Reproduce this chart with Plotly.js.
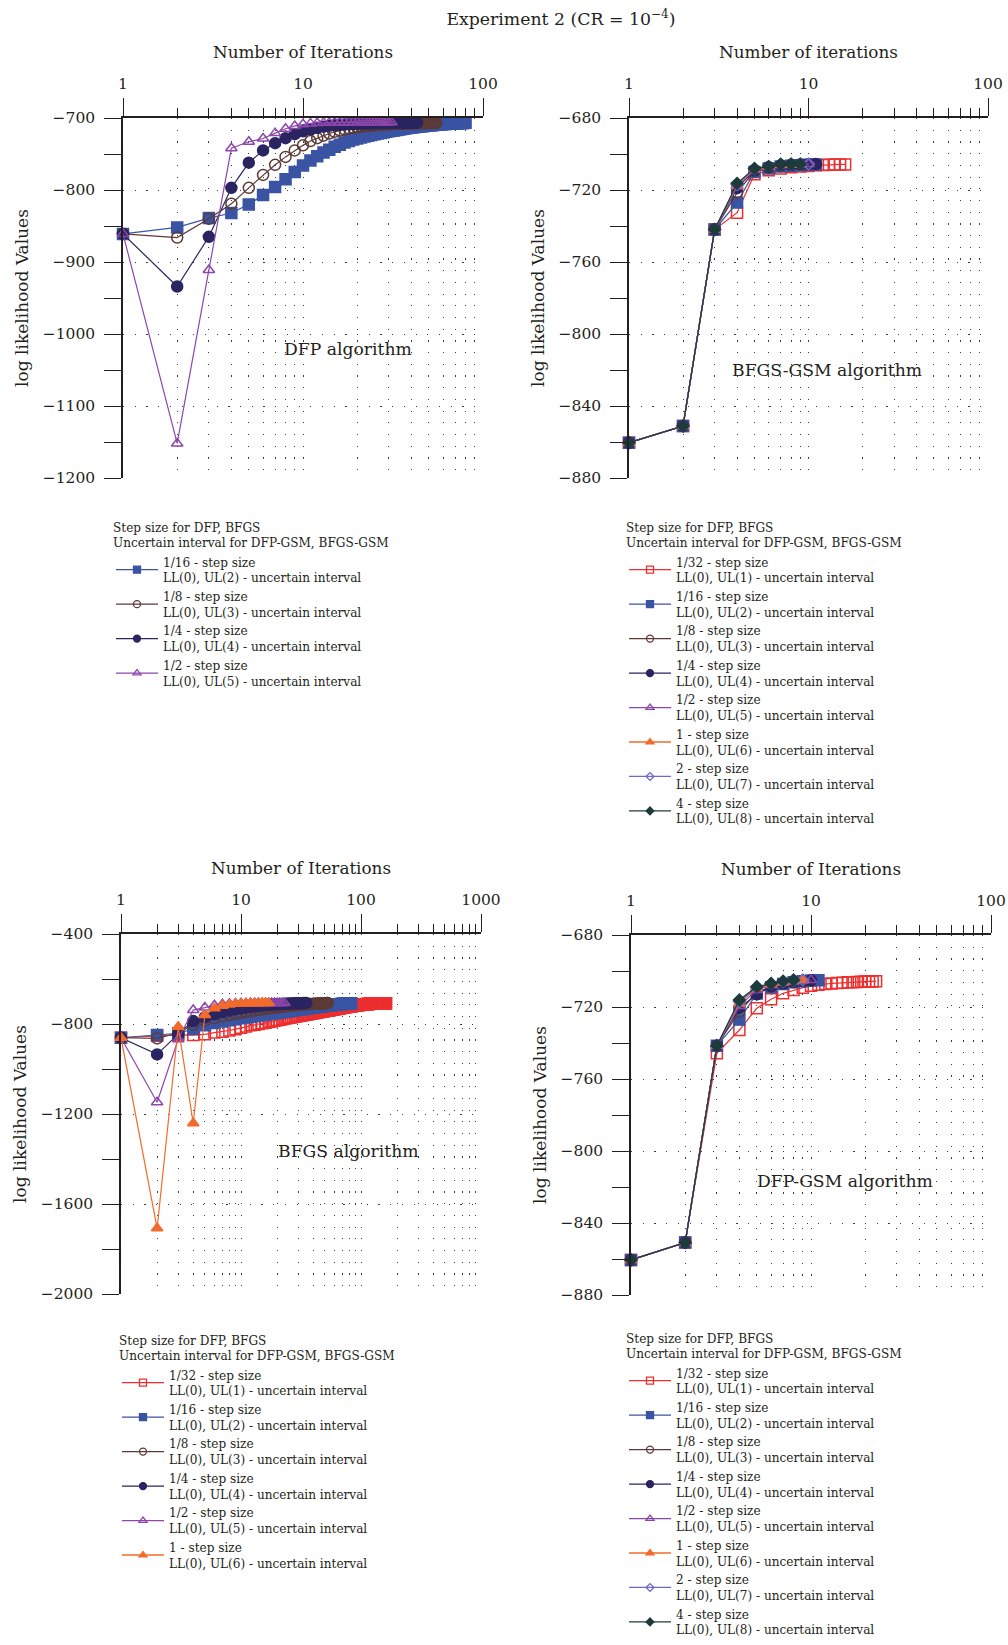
<!DOCTYPE html>
<html><head><meta charset="utf-8">
<script src="https://cdn.plot.ly/plotly-3.0.1.min.js"></script>
<style>html,body{margin:0;padding:0;background:#fff}#chart{width:1008px;height:1645px}</style>
</head><body><div id="chart"></div>
<script>
// ---------- labels ----------
const stepLabels = ['1/32', '1/16', '1/8', '1/4', '1/2', '1', '2', '4'];
const intervalLabels = ['LL(0), UL(1)', 'LL(0), UL(2)', 'LL(0), UL(3)', 'LL(0), UL(4)',
                        'LL(0), UL(5)', 'LL(0), UL(6)', 'LL(0), UL(7)', 'LL(0), UL(8)'];
const legendTitle = 'Step size for DFP, BFGS<br>Uncertain interval for DFP-GSM, BFGS-GSM';
const panelNames = ['DFP algorithm', 'BFGS-GSM algorithm', 'BFGS algorithm', 'DFP-GSM algorithm'];
const xTitles = ['Number of Iterations', 'Number of iterations', 'Number of Iterations', 'Number of Iterations'];
const yTitle = 'log likelihood Values';

// ---------- DFP (top left) ----------
const dfp_16 = [-861,-852,-839,-832,-820,-807,-796,-785,-775,-766,
  -759,-753,-748,-744,-740,-737,-734,-732,-730,-728.5,
  -727,-725.8,-724.6,-723.5,-722.5,-721.6,-720.8,-720,-719.2,-718.5,
  -717.8,-717.2,-716.6,-716,-715.5,-715,-714.5,-714,-713.6,-713.2,
  -712.8,-712.5,-712.2,-711.9,-711.6,-711.3,-711,-710.8,-710.5,-710.3,
  -710.1,-709.9,-709.7,-709.5,-709.3,-709.1,-708.9,-708.8,-708.6,-708.5,
  -708.3,-708.2,-708.1,-708,-707.9,-707.8,-707.7,-707.6,-707.5,-707.4,
  -707.3,-707.2,-707.1,-707,-707,-706.9,-706.8,-706.8,-706.7,-706.7];
const dfp_8 = [-861,-866,-840,-819,-797,-779,-765,-754,-745,-738,
  -732,-728,-724.5,-721.5,-719.2,-717.3,-715.8,-714.6,-713.6,-712.8,
  -712.1,-711.5,-711,-710.6,-710.2,-709.9,-709.6,-709.3,-709.1,-708.9,
  -708.7,-708.5,-708.4,-708.2,-708.1,-708,-707.9,-707.8,-707.7,-707.6,
  -707.5,-707.5,-707.4,-707.3,-707.3,-707.2,-707.2,-707.1,-707.1,-707,
  -707,-707,-706.9,-706.9,-706.9];
const dfp_4 = [-861,-934,-865,-797,-762,-745,-735,-728,-722.5,-718.5,
  -715.6,-713.5,-712,-710.9,-710.1,-709.5,-709,-708.6,-708.3,-708.1,
  -707.9,-707.7,-707.6,-707.5,-707.4,-707.3,-707.2,-707.1,-707.1,-707,
  -707,-706.9,-706.9,-706.8,-706.8,-706.8,-706.7,-706.7,-706.7,-706.6,
  -706.6,-706.6,-706.6];
const dfp_2 = [-861,-1152,-911,-742,-733,-728.5,-721,-715,-711,-708.7,
  -707.5,-706.9,-706.6,-706.4,-706.3,-706.2,-706.1,-706.1,-706,-706,
  -706,-705.9,-705.9,-705.9,-705.9,-705.9,-705.8,-705.8,-705.8,-705.8,
  -705.8];

// ---------- BFGS-GSM (top right) ----------
const bfgsgsm_32 = [-860.4,-851.1,-742,-732.6,-711.3,-709,-708,-707.3,-706.9,-706.6,-706.3,-706.1,-706,-705.9,-705.8,-705.8];
const bfgsgsm_16 = [-860.4,-851.1,-742,-727,-710,-708,-707,-706.5,-706.2,-706,-705.9];
const bfgsgsm_8  = [-860.4,-851.1,-742,-721.5,-709.5,-707.5,-706.6,-706.2,-706,-705.8];
const bfgsgsm_4  = [-860.4,-851.1,-742,-719,-709,-707.3,-706.3,-706,-705.8,-705.7,-705.6];
const bfgsgsm_2  = [-860.4,-851.1,-742,-718,-708.8,-707.2,-706.2,-705.9,-705.7,-705.6];
const bfgsgsm_1  = [-860.4,-851.1,-742,-717.5,-708.5,-707,-706,-705.8,-705.6];
const bfgsgsm_s2 = [-860.4,-851.1,-742,-717,-708.3,-707,-705.9,-705.7,-705.6,-705.6];
const bfgsgsm_s4 = [-860.4,-851.1,-741.9,-716.3,-708,-707,-705.7,-705.6,-705.6];

// ---------- BFGS (bottom left) ----------
const bfgs_32 = [-861,-852,-848,-849,-846,-838,-834,-829,-823,-817,
  -811,-806,-803,-800,-797,-794,-791,-788.5,-786,-783.5,
  -781,-778.5,-776,-774.2,-772.5,-770.8,-769.2,-767.6,-766.1,-764.6,
  -763.2,-761.8,-760.5,-759.2,-757.9,-756.7,-755.5,-754.3,-753.1,-752,
  -750.9,-749.8,-748.8,-747.8,-746.8,-745.8,-744.9,-744,-743.1,-742.2,
  -741.4,-740.5,-739.7,-738.9,-738.1,-737.3,-736.5,-735.8,-735,-734.3,
  -733.6,-732.9,-732.2,-731.5,-730.9,-730.2,-729.6,-729,-728.3,-727.7,
  -727.1,-726.5,-726,-725.4,-724.8,-724.3,-723.7,-723.2,-722.7,-722.2,
  -721.7,-721.2,-720.7,-720.2,-719.8,-719.3,-718.9,-718.5,-718.1,-717.7,
  -717.3,-716.9,-716.5,-716.2,-715.8,-715.5,-715.2,-714.9,-714.6,-714.3,
  -714,-713.7,-713.5,-713.2,-713,-712.7,-712.5,-712.3,-712.1,-711.9,
  -711.7,-711.5,-711.3,-711.1,-711,-710.8,-710.7,-710.5,-710.4,-710.3,
  -710.2,-710.1,-710,-709.9,-709.8,-709.7,-709.6,-709.5,-709.4,-709.4,
  -709.3,-709.2,-709.2,-709.1,-709,-709,-708.9,-708.9,-708.8,-708.8,
  -708.7,-708.7,-708.6,-708.6,-708.5,-708.5,-708.5,-708.4,-708.4,-708.4,
  -708.3,-708.3,-708.3,-708.2,-708.2,-708.2,-708.2,-708.1,-708.1,-708.1,
  -708.1,-708];
const bfgs_16 = [-861,-849,-841,-822,-806,-796,-789,-783,-778.5,-774.5,
  -771,-768,-765,-762.5,-760,-758,-756,-754,-752,-750.3,
  -748.6,-747,-745.5,-744,-742.6,-741.2,-739.9,-738.6,-737.4,-736.2,
  -735,-733.9,-732.8,-731.8,-730.8,-729.8,-728.9,-728,-727.1,-726.3,
  -725.5,-724.7,-723.9,-723.2,-722.5,-721.8,-721.1,-720.5,-719.9,-719.3,
  -718.7,-718.1,-717.6,-717.1,-716.6,-716.1,-715.6,-715.2,-714.7,-714.3,
  -713.9,-713.5,-713.1,-712.7,-712.4,-712,-711.7,-711.4,-711.1,-710.8,
  -710.5,-710.2,-709.9,-709.7,-709.4,-709.2,-708.9,-708.7,-708.5,-708.3,
  -708.1,-707.9,-707.7];
const bfgs_8 = [-861,-864,-840,-803,-785,-774,-766,-760,-755,-750.5,
  -746.5,-743,-740,-737.3,-734.8,-732.6,-730.6,-728.8,-727.1,-725.6,
  -724.2,-722.9,-721.7,-720.6,-719.6,-718.6,-717.7,-716.9,-716.1,-715.4,
  -714.7,-714.1,-713.5,-712.9,-712.4,-711.9,-711.4,-711,-710.6,-710.2,
  -709.9,-709.6,-709.3,-709,-708.7,-708.5,-708.2,-708,-707.8,-707.6,
  -707.4,-707.2,-707];
const bfgs_4 = [-861,-935,-845,-787,-770,-757,-747,-740,-734.5,-730,
  -726.5,-723.5,-721,-719,-717.3,-715.9,-714.7,-713.6,-712.7,-711.9,
  -711.2,-710.6,-710.1,-709.6,-709.2,-708.8,-708.5,-708.2,-707.9,-707.7,
  -707.5,-707.3,-707.1,-707,-706.9];
const bfgs_2 = [-861,-1148,-868,-738,-727,-717,-712,-709.5,-708.3,-707.7,
  -707.3,-707.1,-707,-706.9,-706.9,-706.8,-706.8,-706.8,-706.7,-706.7,
  -706.7,-706.7,-706.6];
const bfgs_1 = [-861,-1708,-812,-1241,-760,-730,-719,-713,-710.5,-709,
  -708.3,-707.8,-707.5,-707.3,-707.1,-707,-707];

// ---------- DFP-GSM (bottom right) ----------
const dfpgsm_32 = [-860.5,-850.9,-745.7,-732.8,-720.7,-715.7,-712.4,-710.6,-709.3,-708.2,-707.6,-707.2,
  -706.9,-706.7,-706.5,-706.3,-706.2,-706.1,-706,-705.9,-705.8,-705.8,-705.7];
const dfpgsm_16 = [-860.5,-850.9,-741.5,-727,-712.5,-709,-707.2,-706.3,-705.7,-705.3,-705.1];
const dfpgsm_8  = [-860.5,-850.9,-741.5,-722.6,-712,-708.5,-707,-706.2,-705.7,-705.4];
const dfpgsm_4  = [-860.5,-850.9,-741.5,-720.5,-713,-708.5,-707,-706,-705.5,-705.2];
const dfpgsm_2  = [-860.5,-850.9,-741.5,-719.5,-710.5,-707.8,-706.5,-705.8,-705.3,-705];
const dfpgsm_1  = [-860.5,-850.9,-741.5,-718,-709.5,-707.3,-706.2,-705.5,-705];
const dfpgsm_s2 = [-860.5,-850.9,-741.5,-717,-709,-707,-706,-705.3,-705];
const dfpgsm_s4 = [-860.5,-850.9,-741.5,-716.1,-708.7,-706.9,-705.6,-705];

// ---------- styling ----------
const FONT = 'DejaVu Serif';
const INK = '#231f20';
const COLORS = ['#ED2F2F', '#3A54A4', '#5C3A36', '#2A2460', '#8D47AB', '#F26B2B', '#6B6AC6', '#1E3B3B'];
const SYMBOLS = ['square-open', 'square', 'circle-open', 'circle', 'triangle-up-open', 'triangle-up', 'diamond-open', 'diamond'];
const SIZES = [11, 11, 11, 11, 10, 10, 9, 9];
const LEG_SIZES = [7, 7, 7, 7, 7, 7, 6, 6];

const W = 1008, H = 1645;
const dx = (a, b) => [a / W, b / W];
const dy = (top, bottom) => [1 - bottom / H, 1 - top / H];

const panels = [
  { ax: '', series: [[1, dfp_16], [2, dfp_8], [3, dfp_4], [4, dfp_2]],
    xd: dx(123, 483), yd: dy(118, 478), xr: [0, 2], yr: [-1200, -700],
    ymaj: [-1200, -1100, -1000, -900, -800, -700], ymin: [-1150, -1050, -950, -850, -750],
    legend: 'legend', lx: 111, ly: 516, ann: [348, 349] },
  { ax: '2', series: [[0, bfgsgsm_32], [1, bfgsgsm_16], [2, bfgsgsm_8], [3, bfgsgsm_4], [4, bfgsgsm_2], [5, bfgsgsm_1], [6, bfgsgsm_s2], [7, bfgsgsm_s4]],
    xd: dx(629, 988), yd: dy(118, 478), xr: [0, 2], yr: [-880, -680],
    ymaj: [-880, -840, -800, -760, -720, -680], ymin: [-860, -820, -780, -740, -700],
    legend: 'legend2', lx: 624, ly: 516, ann: [827, 370] },
  { ax: '3', series: [[0, bfgs_32], [1, bfgs_16], [2, bfgs_8], [3, bfgs_4], [4, bfgs_2], [5, bfgs_1]],
    xd: dx(121, 481), yd: dy(934, 1294), xr: [0, 3], yr: [-2000, -400],
    ymaj: [-2000, -1600, -1200, -800, -400], ymin: [-1800, -1400, -1000, -600],
    legend: 'legend3', lx: 117, ly: 1329, ann: [348, 1151] },
  { ax: '4', series: [[0, dfpgsm_32], [1, dfpgsm_16], [2, dfpgsm_8], [3, dfpgsm_4], [4, dfpgsm_2], [5, dfpgsm_1], [6, dfpgsm_s2], [7, dfpgsm_s4]],
    xd: dx(631, 991), yd: dy(935, 1295), xr: [0, 2], yr: [-880, -680],
    ymaj: [-880, -840, -800, -760, -720, -680], ymin: [-860, -820, -780, -740, -700],
    legend: 'legend4', lx: 624, ly: 1327, ann: [845, 1181] }
];

const MAJ_X = [1, 10, 100, 1000];
const MIN_X = [2, 3, 4, 5, 6, 7, 8, 9, 20, 30, 40, 50, 60, 70, 80, 90, 200, 300, 400, 500, 600, 700, 800, 900];
const GRID = { gridcolor: '#3a3a3a', gridwidth: 1.2, griddash: '1.2px,10.5px' };

const traces = [];
const layout = {
  width: W, height: H,
  margin: { l: 0, r: 0, t: 0, b: 0, autoexpand: false },
  paper_bgcolor: '#fff', plot_bgcolor: 'rgba(0,0,0,0)',
  showlegend: true,
  font: { family: FONT, color: INK },
  title: { text: 'Experiment 2 (CR = 10<sup>\u22124</sup>)', x: 561 / W, xanchor: 'center',
           y: 1 - 19 / H, yanchor: 'middle', font: { family: FONT, size: 17.3, color: INK } },
  annotations: []
};

panels.forEach((p, pi) => {
  const xa = 'x' + p.ax, ya = 'y' + p.ax;
  p.series.forEach(([k, vals]) => {
    const iters = vals.map((_, i) => i + 1);
    traces.push({
      type: 'scatter', mode: 'lines+markers', x: iters, y: vals, xaxis: xa, yaxis: ya,
      showlegend: false, cliponaxis: false, hoverinfo: 'x+y',
      line: { color: COLORS[k], width: 1.2 },
      marker: { symbol: SYMBOLS[k], size: SIZES[k], color: COLORS[k], line: { color: COLORS[k], width: 1.5 } }
    });
  });
  // legend entries
  p.series.forEach(([k]) => {
    traces.push({
      type: 'scatter', mode: 'lines+markers', x: [null], y: [null], xaxis: xa, yaxis: ya,
      legend: p.legend, showlegend: true,
      name: stepLabels[k] + ' - step size<br>' + intervalLabels[k] + ' - uncertain interval',
      line: { color: COLORS[k], width: 1.3 },
      marker: { symbol: SYMBOLS[k], size: LEG_SIZES[k], color: COLORS[k], line: { color: COLORS[k], width: 1.3 } }
    });
  });

  const maxDec = p.xr[1];
  layout['xaxis' + p.ax] = Object.assign({
    type: 'log', domain: p.xd, range: p.xr, anchor: ya, side: 'top',
    showline: true, linecolor: INK, linewidth: 1.5, zeroline: false,
    ticks: 'outside', ticklen: 18, tickwidth: 1.3, tickcolor: INK,
    tickmode: 'array', tickvals: MAJ_X.filter(v => Math.log10(v) <= maxDec),
    ticktext: MAJ_X.filter(v => Math.log10(v) <= maxDec).map(String),
    tickfont: { family: FONT, size: 15.5, color: INK }, ticklabelstandoff: 3,
    showgrid: true,
    minor: Object.assign({ tickmode: 'array', tickvals: MIN_X.filter(v => Math.log10(v) < maxDec),
      ticks: 'outside', ticklen: 8, tickwidth: 1.3, tickcolor: INK, showgrid: true }, GRID),
    title: { text: xTitles[pi], font: { family: FONT, size: 16.8, color: INK }, standoff: 12 }
  }, GRID);
  layout['yaxis' + p.ax] = Object.assign({
    domain: p.yd, range: p.yr, anchor: xa, side: 'left',
    showline: true, linecolor: INK, linewidth: 1.5, zeroline: false,
    ticks: 'outside', ticklen: 17, tickwidth: 1.3, tickcolor: INK,
    tickmode: 'array', tickvals: p.ymaj,
    tickfont: { family: FONT, size: 15.5, color: INK }, ticklabelstandoff: 6,
    showgrid: true,
    minor: { tickmode: 'array', tickvals: p.ymin, ticks: 'outside', ticklen: 17, tickwidth: 1.3, tickcolor: INK, showgrid: false },
    title: { text: yTitle, font: { family: FONT, size: 17, color: INK }, standoff: 10 }
  }, GRID);

  layout[p.legend] = {
    x: p.lx / W, y: 1 - p.ly / H, xanchor: 'left', yanchor: 'top',
    xref: 'paper', yref: 'paper', bgcolor: 'rgba(0,0,0,0)', borderwidth: 0,
    font: { family: FONT, size: 12.1, color: INK }, itemwidth: 42, tracegroupgap: 0,
    title: { text: legendTitle, side: 'top', font: { family: FONT, size: 12.1, color: INK } }
  };

  layout.annotations.push({
    text: panelNames[pi], xref: 'paper', yref: 'paper', x: p.ann[0] / W, y: 1 - p.ann[1] / H,
    xanchor: 'center', yanchor: 'middle', showarrow: false,
    font: { family: FONT, size: 17.2, color: INK }
  });
});

Plotly.newPlot('chart', traces, layout, { displayModeBar: false, responsive: false });
</script>
</body></html>
